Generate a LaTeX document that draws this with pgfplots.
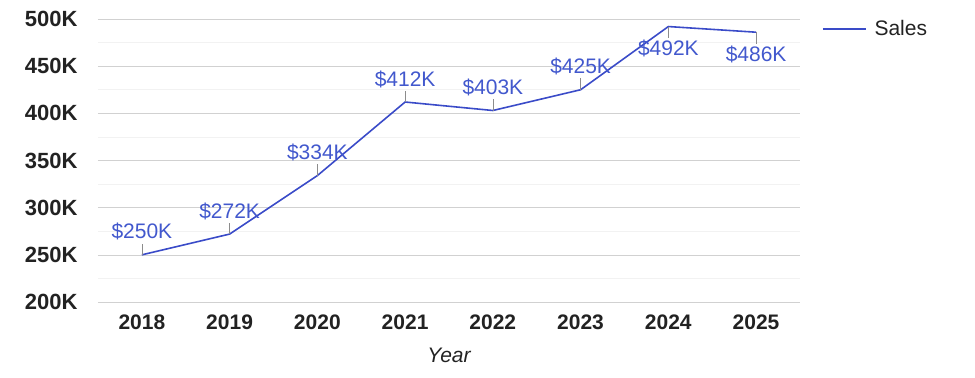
\documentclass[border=0pt]{standalone}
\usepackage{pgfplots}
\pgfplotsset{compat=1.18}
\usepackage{fontspec}
\setmainfont{Liberation Sans}
\definecolor{lineblue}{RGB}{58,75,200}
\definecolor{labblue}{RGB}{66,88,205}
\definecolor{ticktxt}{RGB}{34,34,34}
\begin{document}
\begin{tikzpicture}
\begin{axis}[
  scale only axis,
  width=702bp, height=283bp,
  xmin=2017.5, xmax=2025.5,
  ymin=200, ymax=500,
  xtick={2018,...,2025},
  ytick={200,250,...,500},
  minor ytick={225,275,...,475},
  yticklabels={200K,250K,300K,350K,400K,450K,500K},
  xticklabels={2018,2019,2020,2021,2022,2023,2024,2025},
  tick label style={font=\fontsize{21bp}{24bp}\selectfont\bfseries, text=ticktxt},
  xticklabel style={yshift=-9bp},
  yticklabel style={xshift=-17bp, font=\fontsize{22bp}{24bp}\selectfont\bfseries},
  major tick length=0pt, minor tick length=0pt,
  axis line style={draw=none},
  ymajorgrids, yminorgrids,
  major grid style={draw=black!18, line width=0.6pt},
  minor grid style={draw=black!5, line width=0.6pt},
  xlabel={\itshape Year},
  xlabel style={font=\fontsize{21bp}{24bp}\selectfont, text=ticktxt, yshift=-12bp},
  legend style={at={(rel axis cs:1.031,0.965)}, anchor=west, draw=none, fill=none,
    font=\fontsize{21bp}{24bp}\selectfont, text=ticktxt, inner sep=0pt,
    /tikz/every even column/.append style={column sep=0pt}},
  legend image code/.code={\draw[#1] (0bp,0bp) -- (43bp,0bp);},
  clip=false,
]
\addplot[lineblue, line width=1.6pt, mark=none] coordinates {
  (2018,250) (2019,272) (2020,334) (2021,412) (2022,403) (2023,425) (2024,492) (2025,486)
};
\addlegendentry{\hspace{6bp}Sales}
\addplot[forget plot, draw=none, mark=none,
  error bars/.cd, y dir=plus, y explicit, error mark=none,
  error bar style={draw=black!45, line width=0.5pt}]
  plot[nodes near coords={\$\pgfmathprintnumber[assume math mode=true]{\pgfplotspointmeta}K},
       every node near coord/.style={anchor=base, yshift=16bp, text=labblue,
         font=\fontsize{21bp}{24bp}\selectfont}]
  coordinates {
  (2018,250) +- (0,12)
  (2019,272) +- (0,12)
  (2020,334) +- (0,12)
  (2021,412) +- (0,12)
  (2022,403) +- (0,12)
  (2023,425) +- (0,12)
};
\addplot[forget plot, draw=none, mark=none,
  error bars/.cd, y dir=minus, y explicit, error mark=none,
  error bar style={draw=black!45, line width=0.5pt}]
  plot[nodes near coords={\$\pgfmathprintnumber[assume math mode=true]{\pgfplotspointmeta}K},
       every node near coord/.style={anchor=center, yshift=-22bp, text=labblue,
         font=\fontsize{21bp}{24bp}\selectfont}]
  coordinates {
  (2024,492) +- (0,12)
  (2025,486) +- (0,12)
};
\end{axis}
\path[use as bounding box] (-98bp,-76bp) rectangle (877bp,302bp);
\end{tikzpicture}
\end{document}
